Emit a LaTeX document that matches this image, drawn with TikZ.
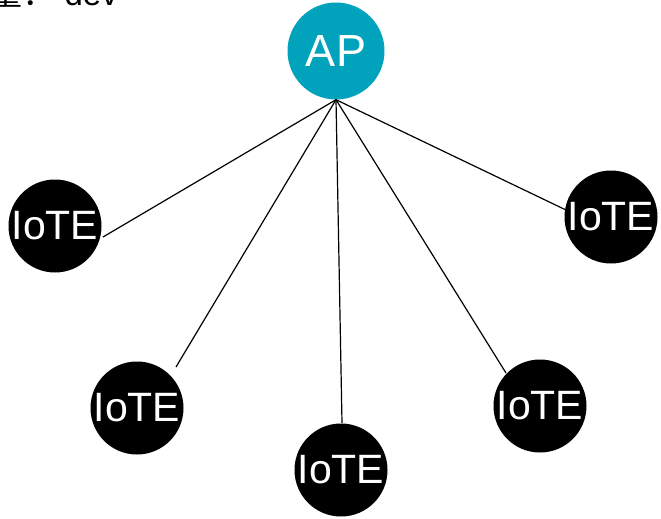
\documentclass[tikz,border=0pt]{standalone}
\usepackage{fontspec}
\setmainfont{Liberation Sans}
\newfontfamily\cjk{Noto Sans CJK SC}
\definecolor{apteal}{RGB}{0,163,187}
\begin{document}
\begin{tikzpicture}[x=1pt,y=-1pt,
  iote/.style={circle,fill=black,minimum size=93pt,inner sep=0pt,text=white,font=\fontsize{41}{43}\selectfont},
  apnode/.style={circle,fill=apteal,minimum size=97pt,inner sep=0pt,text=white,font=\fontsize{45}{47}\selectfont},
  link/.style={draw=black,line width=1.2pt}]
\useasboundingbox (0,0) rectangle (661,519);
\begin{scope}
\clip (0,0) rectangle (661,519);
\node[anchor=base east,inner sep=0pt,font=\fontsize{33}{35}\selectfont] (cap) at (118,6) {\cjk 量：\rmfamily\ dev};
\end{scope}
\node[apnode] (ap) at (336,51) {AP};
\node[iote] (n1) at (55,226) {IoTE};
\node[iote] (n2) at (137,408) {IoTE};
\node[iote] (n3) at (341,470) {IoTE};
\node[iote] (n4) at (540,406) {IoTE};
\node[iote] (n5) at (611,217) {IoTE};
\coordinate (e1) at (103,237);
\coordinate (e2) at (176,367);
\coordinate (e3) at (342,423);
\coordinate (e4) at (506,373);
\coordinate (e5) at (566,210);
\foreach \e in {e1,e2,e3,e4,e5} \draw[link] (ap.south) -- (\e);
\end{tikzpicture}
\end{document}
